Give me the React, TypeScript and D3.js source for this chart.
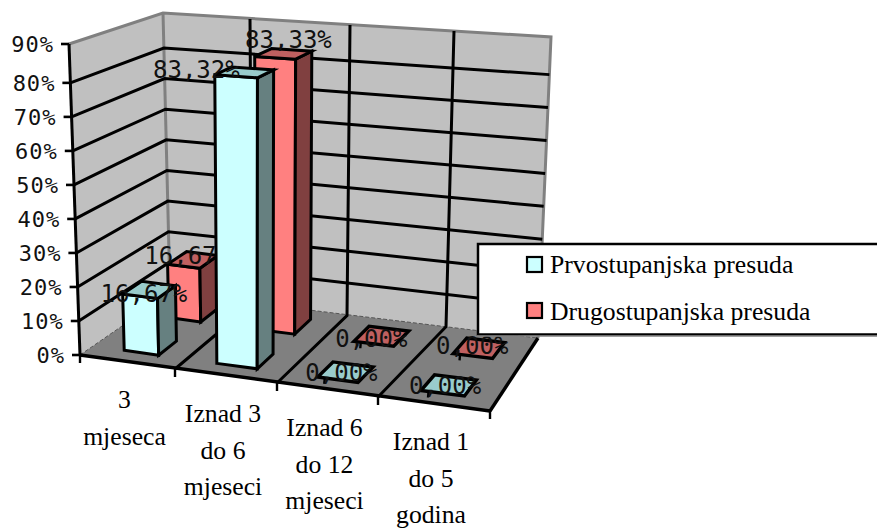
import React from "react";
import * as d3 from "d3";

const categories = [["3", "mjeseca"], ["Iznad 3", "do 6", "mjeseci"], ["Iznad 6", "do 12", "mjeseci"], ["Iznad 1", "do 5", "godina"]];
const seriesNames = ["Prvostupanjska presuda", "Drugostupanjska presuda"];
const prvostupanjska = [16.67, 83.32, 0, 0];
const drugostupanjska = [16.67, 83.33, 0, 0];
const prvoLabels = ["16,67%", "83,32%", "0,00%", "0,00%"];
const drugoLabels = ["16,67%", "83,33%", "0,00%", "0,00%"];
const yTicks = [0, 10, 20, 30, 40, 50, 60, 70, 80, 90];

const frontX = d3.scaleLinear([0, 1, 2, 3, 4], [80, 175, 277, 378, 490]);
const frontY = d3.scaleLinear([0, 4], [355, 411]);
const backX = d3.scaleLinear([0, 1, 2, 3, 4], [170, 252, 347, 446, 538]);
const backY = d3.scaleLinear([0, 4], [293, 338]);
const frac = d3.scaleLinear([0, 80, 90], [0, 0.875, 1]);
const riseFrontX = d3.scaleLinear([0, 4], [-11, 15]);
const riseFrontY = d3.scaleLinear([0, 4], [-311, -338]);
const riseBackX = d3.scaleLinear([0, 4], [-7, 13]);
const riseBackY = d3.scaleLinear([0, 4], [-280, -301]);
const mix = (a: number, b: number, t: number) => a + (b - a) * t;

// label nudges relative to the top of each bar (layout only)
const prvoNudge = [[-4, 12], [-48, 6], [-4, 9], [-4, 9]];
const drugoNudge = [[-4, 4], [5, -6], [-10, 11], [-7, 6]];

type Pt = [number, number];
function P(u: number, v: number, w: number): Pt {
  const f = frac(w);
  return [
    mix(frontX(u), backX(u), v) + f * mix(riseFrontX(u), riseBackX(u), v),
    mix(frontY(u), backY(u), v) + f * mix(riseFrontY(u), riseBackY(u), v),
  ];
}
const poly = (pts: Pt[]) => pts.map((p) => p.join(",")).join(" ");
const mono = "'DejaVu Sans Mono', monospace";
const serif = "'Liberation Serif', serif";

function Bar({ i, w, v0, v1, front, top, side, label, nudge }: any) {
  const u0 = i + (i === 0 ? 0.33 : 0.3), u1 = i + 0.7;
  const a = P(u0, v0, 0), b = P(u1, v0, 0), c = P(u1, v1, 0);
  const a2 = P(u0, v0, w), b2 = P(u1, v0, w), c2 = P(u1, v1, w), d2 = P(u0, v1, w);
  const s = { stroke: "#000", strokeWidth: w > 0 ? 3 : 3.4, strokeLinejoin: "miter" as const };
  const mid = P(i + 0.5, (v0 + v1) / 2, w);
  const stub = P(u0 + 0.07, v0, 0);
  return (
    <g>
      {w > 0 ? (
        <>
          <polygon points={poly([a, b, b2, a2])} fill={front} {...s} />
          <polygon points={poly([b, c, c2, b2])} fill={side} {...s} />
        </>
      ) : (
        <line x1={stub[0]} y1={stub[1]} x2={stub[0] - 0.5} y2={stub[1] + 6} stroke="#000" strokeWidth={2.4} />
      )}
      <polygon points={poly([a2, b2, c2, d2])} fill={top} {...s} />
      <text x={mid[0] + nudge[0]} y={mid[1] + nudge[1]} textAnchor="middle" fontFamily={mono} fontSize={24} fill="#111">{label}</text>
    </g>
  );
}

export default function App() {
  const FL = P(0, 0, 0), BL = P(0, 1, 0), BR = P(4, 1, 0), FR = P(4, 0, 0);
  const FLt = P(0, 0, 90), BLt = P(0, 1, 90), BRt = P(4, 1, 90);
  return (
    <svg width={877} height={529} style={{ position: "absolute", left: 0, top: 0, background: "#fff" }}>
      <polygon points={poly([FL, BL, BLt, FLt])} fill="#c0c0c0" />
      <polygon points={poly([BL, BR, BRt, BLt])} fill="#c0c0c0" />
      <polygon points={poly([FL, FR, BR, BL])} fill="#808080" />
      <polyline points={poly([FLt, BLt, BRt, BR])} fill="none" stroke="#808080" strokeWidth={3} />
      <line x1={BL[0]} y1={BL[1]} x2={BLt[0]} y2={BLt[1]} stroke="#808080" strokeWidth={3} />
      <polyline points={poly([FL, BL, BR])} fill="none" stroke="#555" strokeWidth={1} strokeDasharray="4 2" />
      {yTicks.slice(1, -1).map((t) => (
        <polyline key={t} points={poly([P(0, 0, t), P(0, 1, t), P(4, 1, t)])} fill="none" stroke="#000" strokeWidth={3} />
      ))}
      {[1, 2, 3].map((u) => (
        <polyline key={u} points={poly([P(u, 0, 0), P(u, 1, 0), P(u, 1, 90)])} fill="none" stroke="#000" strokeWidth={3} />
      ))}
      <line x1={FL[0]} y1={FL[1]} x2={FR[0]} y2={FR[1]} stroke="#000" strokeWidth={3.4} />
      <line x1={FR[0]} y1={FR[1]} x2={BR[0]} y2={BR[1]} stroke="#000" strokeWidth={3.4} />
      <line x1={FL[0]} y1={FL[1]} x2={FLt[0]} y2={FLt[1]} stroke="#000" strokeWidth={3} />
      {yTicks.map((t) => {
        const p = P(0, 0, t);
        return (
          <g key={t}>
            <line x1={p[0] - 8} y1={p[1]} x2={p[0]} y2={p[1]} stroke="#000" strokeWidth={2.6} />
            <text x={p[0] - 15} y={p[1] + 8} textAnchor="end" fontFamily={mono} fontSize={22} letterSpacing={1} fill="#111">{t}%</text>
          </g>
        );
      })}
      {[0, 1, 2, 3, 4].map((u) => {
        const p = P(u, 0, 0);
        return <line key={u} x1={p[0]} y1={p[1]} x2={p[0]} y2={p[1] + 8} stroke="#000" strokeWidth={2.4} />;
      })}
      {categories.map((lines, i) => {
        const p = P(i + 0.5, 0, 0);
        return lines.map((s, j) => (
          <text key={j} x={p[0] - 3} y={p[1] + 46 + j * 36.5} textAnchor="middle" fontFamily={serif} fontSize={25.7} fill="#000">{s}</text>
        ));
      })}
      {categories.map((_, i) => (
        <g key={i}>
          <Bar i={i} w={drugostupanjska[i]} v0={0.67} v1={0.89} front="#ff8080" top="#c06060" side="#804040" label={drugoLabels[i]} nudge={drugoNudge[i]} />
          <Bar i={i} w={prvostupanjska[i]} v0={0.15} v1={0.37} front="#ccffff" top="#99cccc" side="#668080" label={prvoLabels[i]} nudge={prvoNudge[i]} />
        </g>
      ))}
      <rect x={478} y={244} width={402} height={90.5} fill="#fff" stroke="#000" strokeWidth={2.5} />
      <line x1={477} y1={336} x2={877} y2={336} stroke="#808080" strokeWidth={1.5} />
      {seriesNames.map((n, i) => (
        <g key={n}>
          <rect x={527} y={257 + i * 46} width={15} height={15} fill={i ? "#ff8080" : "#ccffff"} stroke="#000" strokeWidth={2.2} />
          <text x={550} y={273 + i * 47} fontFamily={serif} fontSize={25.7} fill="#000">{n}</text>
        </g>
      ))}
    </svg>
  );
}
